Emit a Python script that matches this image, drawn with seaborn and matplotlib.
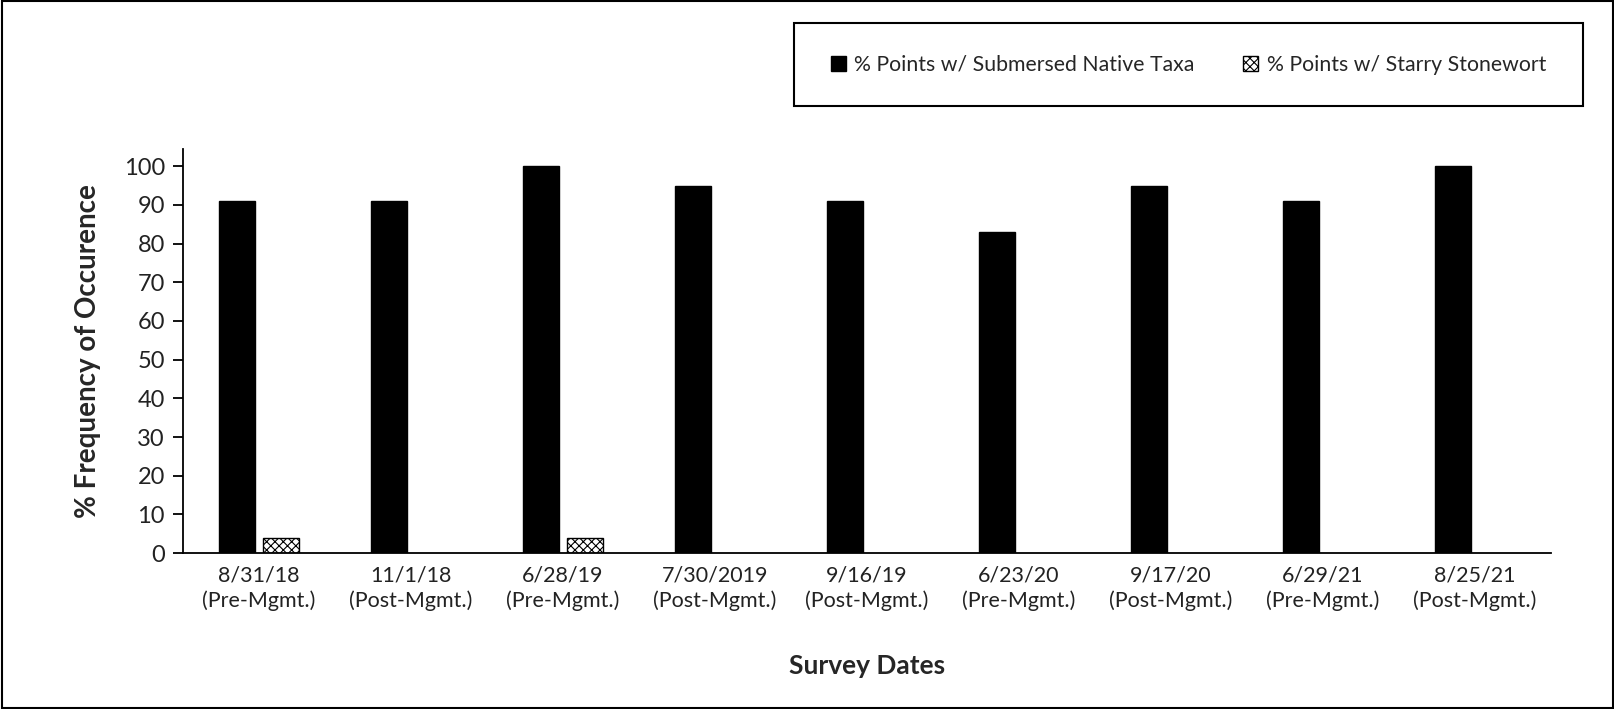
import matplotlib
matplotlib.use("Agg")
import matplotlib.pyplot as plt
import seaborn as sns
import pandas as pd
import numpy as np
from matplotlib.patches import Rectangle, Patch

dates = ["8/31/18\n(Pre-Mgmt.)", "11/1/18\n(Post-Mgmt.)", "6/28/19\n(Pre-Mgmt.)",
         "7/30/2019\n(Post-Mgmt.)", "9/16/19\n(Post-Mgmt.)", "6/23/20\n(Pre-Mgmt.)",
         "9/17/20\n(Post-Mgmt.)", "6/29/21\n(Pre-Mgmt.)", "8/25/21\n(Post-Mgmt.)"]
native = [91, 91, 100, 95, 91, 83, 95, 91, 100]
starry = [4, 0, 4, 0, 0, 0, 0, 0, 0]
series = ["% Points w/ Submersed Native Taxa", "% Points w/ Starry Stonewort"]
yticks = list(range(0, 101, 10))

df = pd.DataFrame({
    "date": dates * 2,
    "value": native + starry,
    "series": [series[0]] * len(dates) + [series[1]] * len(dates),
})

sns.set_theme(style="white")
plt.rcParams['font.family'] = ['Lato', 'DejaVu Sans']
plt.rcParams['hatch.linewidth'] = 0.8

fig = plt.figure(figsize=(16.15, 7.09), dpi=100)
ax = fig.add_axes([0.1133, 0.22, 0.9604 - 0.1133, 0.57])

sns.barplot(data=df, x="date", y="value", hue="series", order=dates,
            hue_order=series, palette=["black", "white"], width=0.58, gap=0.17,
            edgecolor="black", linewidth=1.0, ax=ax, legend=False)

n = len(dates)
for i, p in enumerate(ax.patches):
    if i >= n:
        p.set_hatch("xxxx")
        p.set_edgecolor("black")
        if p.get_height() == 0:
            p.set_visible(False)

ax.set_xlim(-0.5, n - 0.5)
ax.set_ylim(0, 104.5)
ax.set_yticks(yticks)
ax.set_yticklabels([str(t) for t in yticks], fontsize=17, color="#222222")
ax.set_xticks(range(n))
ax.set_xticklabels(dates, fontsize=15.5, color="#222222", linespacing=1.32)
ax.set_xticks(np.arange(-0.5, n, 1.0), minor=True)
ax.tick_params(axis="x", which="major", length=0, pad=9)
ax.tick_params(axis="x", which="minor", length=7, width=1.3, direction="out", color="black")
ax.tick_params(axis="y", which="major", length=7, width=1.3, direction="out", color="black", pad=6)
ax.tick_params(bottom=True, left=True)

for s in ["top", "right"]:
    ax.spines[s].set_visible(False)
for s in ["left", "bottom"]:
    ax.spines[s].set_color("black")
    ax.spines[s].set_linewidth(1.3)

ax.set_xlabel("Survey Dates", fontsize=19, fontweight="bold", labelpad=31)
ax.set_ylabel("% Frequency of Occurence", fontsize=20, fontweight="bold", labelpad=16)

fig.patches.append(Rectangle((0.4916, 0.8505), 0.4885, 0.117, transform=fig.transFigure,
                             fill=False, edgecolor="black", linewidth=1.5))
handles = [Patch(facecolor="black", edgecolor="black"),
           Patch(facecolor="white", edgecolor="black", hatch="xxxx")]
fig.legend(handles, series, loc="center", bbox_to_anchor=(0.4916 + 0.4885 / 2, 0.8505 + 0.117 / 2),
           ncol=2, frameon=False, fontsize=15.3, handlelength=0.7, handleheight=0.7,
           handletextpad=0.4, columnspacing=2.3)

fig.patches.append(Rectangle((0.001, 0.001), 0.998, 0.997, transform=fig.transFigure,
                             fill=False, edgecolor="black", linewidth=1.5))

fig.savefig("out.png", dpi=100)
